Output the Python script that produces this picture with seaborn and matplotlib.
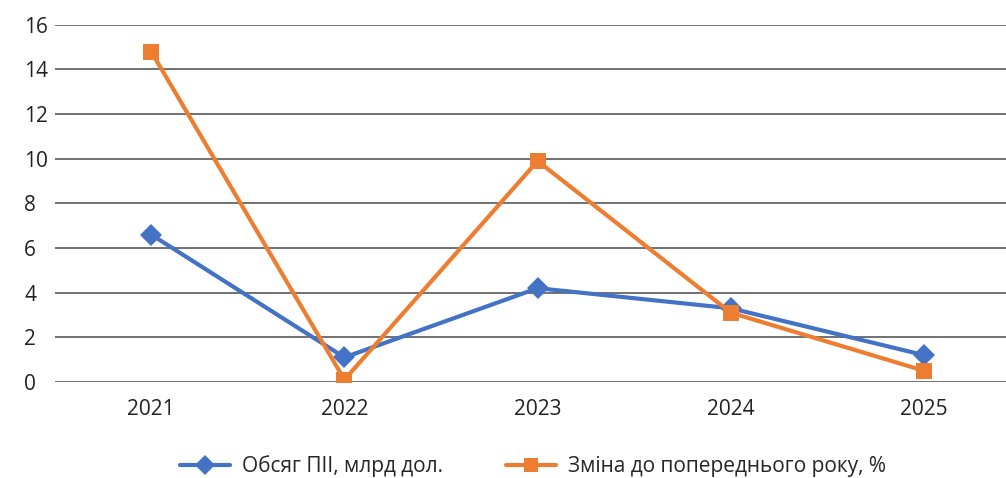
import matplotlib
matplotlib.use("Agg")
import matplotlib.pyplot as plt
import seaborn as sns
import pandas as pd

years = ["2021", "2022", "2023", "2024", "2025"]
fdi_volume = [6.6, 1.1, 4.2, 3.3, 1.2]
change_prev = [14.8, 0.1, 9.9, 3.1, 0.5]
label_fdi = "Обсяг ПІІ, млрд дол."
label_change = "Зміна до попереднього року, %"
yticks = [0, 2, 4, 6, 8, 10, 12, 14, 16]

sns.set_theme(style="white")
plt.rcParams['font.family'] = ['Open Sans', 'DejaVu Sans']

df = pd.DataFrame({"year": years * 2,
                   "value": fdi_volume + change_prev,
                   "series": [label_fdi] * 5 + [label_change] * 5})

fig = plt.figure(figsize=(10.06, 4.78), dpi=100)
ax = fig.add_axes([0.0543, 0.201, 0.9457, 0.747])

sns.lineplot(data=df, x="year", y="value", hue="series", style="series",
             palette={label_fdi: "#4472C4", label_change: "#ED7D31"},
             markers={label_fdi: "D", label_change: "s"},
             dashes=False, linewidth=3, markersize=11, markeredgewidth=0,
             sort=False, ax=ax)

ax.set_ylim(0, 16)
ax.set_yticks(yticks)
ax.set_xlim(-0.5, 4.424)
ax.yaxis.grid(True, color="#595959", linewidth=1.2)
ax.set_axisbelow(True)
for s in ax.spines.values():
    s.set_visible(False)
ax.set_xlabel("")
ax.set_ylabel("")
ax.tick_params(axis="both", labelsize=15, colors="#222222", length=0, pad=10)
ax.tick_params(axis="y", pad=22)
ax.tick_params(axis="x", pad=12)
for lab in ax.get_yticklabels():
    lab.set_horizontalalignment("left")

handles, labels = ax.get_legend_handles_labels()
ax.get_legend().remove()
for h in handles:
    h.set_markersize(10)
fig.legend(handles, labels, loc="center", bbox_to_anchor=(0.53, 0.025), ncol=2,
           frameon=False, fontsize=15, handlelength=2.4, columnspacing=3.0,
           handletextpad=0.6)

fig.savefig("out.png", dpi=100)
